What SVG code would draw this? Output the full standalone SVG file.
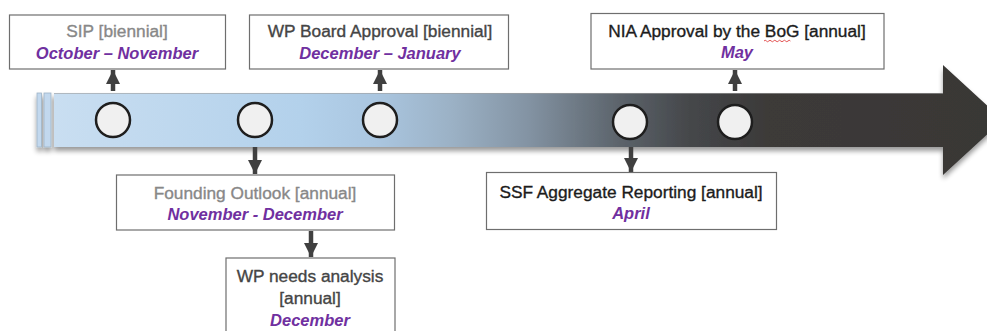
<svg xmlns="http://www.w3.org/2000/svg" width="987" height="331" viewBox="0 0 987 331">
  <defs>
    <linearGradient id="barFill" gradientUnits="userSpaceOnUse" x1="54" y1="0" x2="1003" y2="0">
      <stop offset="0" stop-color="#c9def1"/>
      <stop offset="0.26" stop-color="#b3d1eb"/>
      <stop offset="0.34" stop-color="#aac6e0"/>
      <stop offset="0.42" stop-color="#9bb1c5"/>
      <stop offset="0.5" stop-color="#8393a3"/>
      <stop offset="0.59" stop-color="#5e666e"/>
      <stop offset="0.67" stop-color="#45474a"/>
      <stop offset="0.75" stop-color="#3c3a39"/>
      <stop offset="1" stop-color="#393735"/>
    </linearGradient>
    <filter id="shadow" x="-5%" y="-20%" width="110%" height="150%">
      <feGaussianBlur in="SourceAlpha" stdDeviation="2.5"/>
      <feOffset dx="0" dy="4" result="b"/>
      <feComponentTransfer><feFuncA type="linear" slope="0.4"/></feComponentTransfer>
      <feMerge><feMergeNode/><feMergeNode in="SourceGraphic"/></feMerge>
    </filter>
    <marker id="head" viewBox="0 0 10 10" refX="10" refY="5" markerWidth="3.2" markerHeight="3.2" markerUnits="strokeWidth" orient="auto">
      <path d="M0,0 L10,5 L0,10 Z" fill="#404040"/>
    </marker>
  </defs>
  <style>
    .box { fill: #ffffff; stroke: #6e6e6e; stroke-width: 1.2; }
    .t { font-family: "Liberation Sans", Arial, sans-serif; font-size: 17.3px; text-anchor: middle; stroke-width: 0.35; }
    .m { font-family: "Liberation Sans", Arial, sans-serif; font-size: 16.5px; text-anchor: middle; font-weight: bold; font-style: italic; fill: #7030a0; }
    .grey { fill: #888888; stroke: #888888; }
    .mid { fill: #454545; stroke: #454545; }
    .dark { fill: #1c1c1c; stroke: #1c1c1c; }
    .dot { fill: #f0f0f0; stroke: #1e1e1e; stroke-width: 2.5; }
    .link { stroke: #404040; stroke-width: 4.5; fill: none; marker-end: url(#head); }
  </style>

  <!-- timeline arrow -->
  <g id="timeline" filter="url(#shadow)">
    <rect x="37" y="93" width="4.5" height="54" fill="#c2d8ee" stroke="#9fb3c6" stroke-width="0.8"/>
    <rect x="44" y="93" width="7" height="54" fill="#c2d8ee" stroke="#9fb3c6" stroke-width="0.8"/>
    <path d="M54,93 H943 V65 L1003,120 L943,175 V147 H54 Z" fill="url(#barFill)"/>
    <line x1="54" y1="93.5" x2="943" y2="93.5" stroke="#a0a0a0" stroke-width="1" opacity="0.6"/>
  </g>

  <!-- connectors -->
  <g id="connectors">
    <line class="link" x1="113" y1="91" x2="113" y2="70"/>
    <line class="link" x1="380" y1="91" x2="380" y2="70"/>
    <line class="link" x1="735" y1="91" x2="735" y2="70"/>
    <line class="link" x1="255" y1="147" x2="255" y2="174"/>
    <line class="link" x1="631" y1="147" x2="631" y2="172"/>
    <line class="link" x1="311" y1="231" x2="311" y2="257"/>
  </g>

  <!-- milestone markers -->
  <g id="markers">
    <circle class="dot" cx="113" cy="120" r="17"/>
    <circle class="dot" cx="255" cy="120" r="17"/>
    <circle class="dot" cx="380" cy="120" r="17"/>
    <circle class="dot" cx="630" cy="122" r="17"/>
    <circle class="dot" cx="735" cy="122" r="17"/>
  </g>

  <g id="sip">
    <rect class="box" x="9.5" y="15" width="216" height="54"/>
    <text class="t grey" x="117" y="37">SIP [biennial]</text>
    <text class="m" x="117" y="59">October – November</text>
  </g>

  <g id="wp-board">
    <rect class="box" x="249.5" y="15" width="259" height="54"/>
    <text class="t mid" x="380" y="37">WP Board Approval [biennial]</text>
    <text class="m" x="380" y="59">December – January</text>
  </g>

  <g id="nia">
    <rect class="box" x="591" y="13.5" width="293" height="55.5"/>
    <text class="t dark" x="737" y="37">NIA Approval by the BoG [annual]</text>
    <path d="M764,41 q1.2,-1.5 2.4,0 t2.4,0 t2.4,0 t2.4,0 t2.4,0 t2.4,0 t2.4,0 t2.4,0 t2.4,0 t2.4,0 t2.4,0" fill="none" stroke="#e04040" stroke-width="0.9"/>
    <text class="m" x="737" y="58">May</text>
  </g>

  <g id="founding">
    <rect class="box" x="116.5" y="175" width="278" height="55"/>
    <text class="t grey" x="255" y="199">Founding Outlook [annual]</text>
    <text class="m" x="255" y="220">November - December</text>
  </g>

  <g id="ssf">
    <rect class="box" x="486.5" y="172.5" width="290" height="57"/>
    <text class="t dark" x="631" y="198">SSF Aggregate Reporting [annual]</text>
    <text class="m" x="631" y="219">April</text>
  </g>

  <g id="wp-needs">
    <rect class="box" x="226" y="258" width="169" height="80"/>
    <text class="t mid" x="310" y="282">WP needs analysis</text>
    <text class="t mid" x="310" y="304">[annual]</text>
    <text class="m" x="310" y="326">December</text>
  </g>
</svg>
